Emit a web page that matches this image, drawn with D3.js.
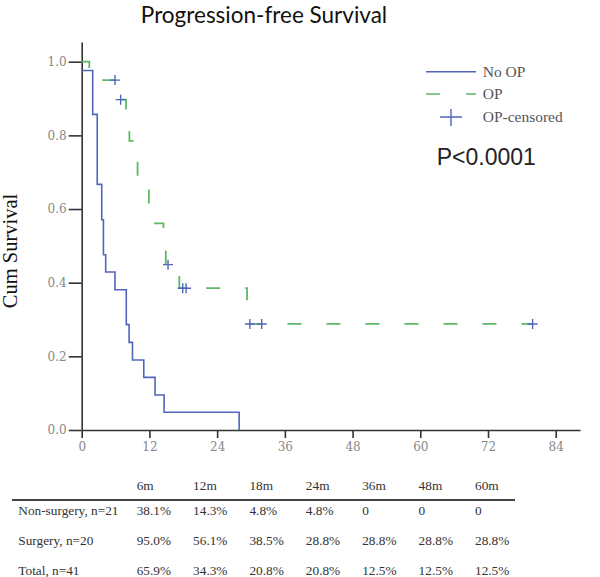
<!DOCTYPE html>
<html>
<head>
<meta charset="utf-8">
<script src="https://cdn.jsdelivr.net/npm/d3@7"></script>
<style>
  body { margin: 0; background: #fff; }
</style>
</head>
<body>
<script>
const w = 600;
const h = 577;

// Kaplan-Meier steps (months, cumulative survival)
const noOpTimes = [0, 1.95, 2.75, 3.55, 3.85, 4.25, 5.9, 7.9, 8.4, 9.0, 11.0, 13.0, 14.6, 27.9];
const noOpSurv = [0.976, 0.857, 0.667, 0.571, 0.476, 0.429, 0.381, 0.286, 0.238, 0.19, 0.143, 0.095, 0.048, 0];

const opTimes = [0, 1.35, 6.3, 7.85, 8.45, 9.9, 11.9, 14.5, 14.9, 17.3, 29.3, 79.9];
const opSurv = [1.0, 0.95, 0.897, 0.841, 0.785, 0.673, 0.561, 0.505, 0.449, 0.385, 0.288, 0.288];

const censorTimes = [5.9, 6.9, 15.3, 17.9, 18.5, 29.8, 31.9, 79.9];

const xTicks = [0, 12, 24, 36, 48, 60, 72, 84];
const yTicks = [0, 0.2, 0.4, 0.6, 0.8, 1.0];

// table under the chart
const tableCols = ["6m", "12m", "18m", "24m", "36m", "48m", "60m"];
const rowLabels = ["Non-surgery, n=21", "Surgery, n=20", "Total, n=41"];
const nonSurgeryRow = ["38.1%", "14.3%", "4.8%", "4.8%", "0", "0", "0"];
const surgeryRow = ["95.0%", "56.1%", "38.5%", "28.8%", "28.8%", "28.8%", "28.8%"];
const totalRow = ["65.9%", "34.3%", "20.8%", "20.8%", "12.5%", "12.5%", "12.5%"];

const blue = "#5166bb";
const green = "#5cb865";

const svg = d3
  .select("body")
  .append("svg")
  .attr("width", w)
  .attr("height", h);

const xScale = d3.scaleLinear().domain([0, 88.3]).range([81.7, 580]);
const yScale = d3.scaleLinear().domain([0, 1.0535]).range([430, 42]);

// title
svg
  .append("text")
  .attr("x", 264)
  .attr("y", 23)
  .style("text-anchor", "middle")
  .style("font-family", "Lato, sans-serif")
  .style("font-size", "22.5px")
  .attr("fill", "#111")
  .text("Progression-free Survival");

// axes
const xAxis = d3.axisBottom(xScale).tickValues(xTicks).tickSize(8).tickSizeOuter(0).tickPadding(4);
const yAxis = d3
  .axisLeft(yScale)
  .tickValues(yTicks)
  .tickSize(13)
  .tickSizeOuter(0)
  .tickPadding(2)
  .tickFormat(d3.format(".1f"));

const gx = svg
  .append("g")
  .attr("transform", "translate(0,430)")
  .call(xAxis);
const gy = svg
  .append("g")
  .attr("transform", "translate(81.7,0)")
  .call(yAxis);

[gx, gy].forEach(g => {
  g.select(".domain").attr("stroke", "#333").attr("stroke-width", 1.6);
  g.selectAll(".tick line").attr("stroke", "#333").attr("stroke-width", 1.6);
  g.selectAll(".tick text")
    .attr("fill", "#888")
    .style("font-family", "'DejaVu Serif', serif")
    .style("font-size", "12px");
});

// y label
svg
  .append("text")
  .attr("transform", "translate(17,251) rotate(-90)")
  .style("text-anchor", "middle")
  .style("font-family", "'Liberation Serif', serif")
  .style("font-size", "20.5px")
  .attr("fill", "#111")
  .text("Cum Survival");

// curves
const line = d3
  .line()
  .x(d => xScale(d[0]))
  .y(d => yScale(d[1]))
  .curve(d3.curveStepAfter);

svg
  .append("path")
  .datum(noOpTimes.map((t, i) => [t, noOpSurv[i]]))
  .attr("d", line)
  .attr("fill", "none")
  .attr("stroke", blue)
  .attr("stroke-width", 1.6);

svg
  .append("path")
  .datum(opTimes.map((t, i) => [t, opSurv[i]]))
  .attr("d", line)
  .attr("fill", "none")
  .attr("stroke", green)
  .attr("stroke-width", 1.8)
  .attr("stroke-dasharray", "14,25");

// censor marks on the OP curve
const opAt = t => {
  let s = opSurv[0];
  opTimes.forEach((ti, i) => {
    if (ti <= t) s = opSurv[i];
  });
  return s;
};

svg
  .selectAll(".censor")
  .data(censorTimes)
  .enter()
  .append("path")
  .attr("class", "censor")
  .attr("d", t => {
    const cx = xScale(t);
    const cy = yScale(opAt(t));
    return "M" + (cx - 5) + "," + cy + "H" + (cx + 5) + "M" + cx + "," + (cy - 5) + "V" + (cy + 5);
  })
  .attr("stroke", blue)
  .attr("stroke-width", 1.4)
  .attr("fill", "none");

// legend
const legend = svg.append("g").style("font-family", "'Liberation Serif', serif").style("font-size", "15.5px");
legend
  .append("line")
  .attr("x1", 426).attr("x2", 476).attr("y1", 71.7).attr("y2", 71.7)
  .attr("stroke", blue).attr("stroke-width", 1.4);
legend
  .append("line")
  .attr("x1", 426).attr("x2", 476).attr("y1", 94).attr("y2", 94)
  .attr("stroke", green).attr("stroke-width", 1.4)
  .attr("stroke-dasharray", "14,26");
legend
  .append("path")
  .attr("d", "M440,117H462M451,109V126")
  .attr("stroke", blue).attr("stroke-width", 1.4);
["No OP", "OP", "OP-censored"].forEach((t, i) => {
  legend
    .append("text")
    .attr("x", 482.7)
    .attr("y", 76.5 + i * 22.5)
    .attr("fill", "#555")
    .text(t);
});

// p value
svg
  .append("text")
  .attr("x", 436.7)
  .attr("y", 165)
  .style("font-family", "'Liberation Sans', Arial, sans-serif")
  .style("font-size", "23px")
  .attr("fill", "#222")
  .text("P<0.0001");

// table
const colX = d3.scalePoint().domain(tableCols).range([136.7, 475]);
const table = svg.append("g").style("font-family", "'Liberation Serif', serif").style("font-size", "13.3px").attr("fill", "#333");

table
  .selectAll(".head")
  .data(tableCols)
  .enter()
  .append("text")
  .attr("x", d => colX(d))
  .attr("y", 490)
  .text(d => d);

svg
  .append("line")
  .attr("x1", 12).attr("x2", 515).attr("y1", 500).attr("y2", 500)
  .attr("stroke", "#444").attr("stroke-width", 2);

[nonSurgeryRow, surgeryRow, totalRow].forEach((row, r) => {
  const y = 515 + r * 30;
  table.append("text").attr("x", 18.3).attr("y", y).text(rowLabels[r]);
  table
    .selectAll(".row" + r)
    .data(row)
    .enter()
    .append("text")
    .attr("x", (d, i) => colX(tableCols[i]))
    .attr("y", y)
    .text(d => d);
});
</script>
</body>
</html>
